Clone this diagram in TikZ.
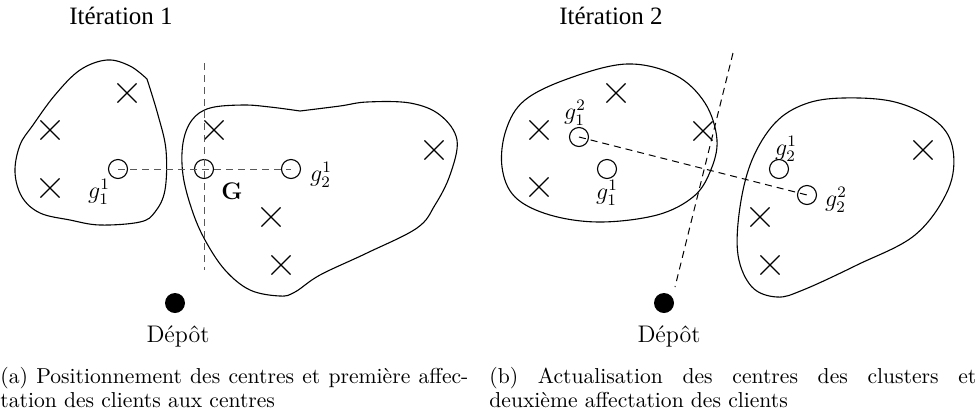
\documentclass[tikz,border=0pt]{standalone}
\usepackage{fontspec}
\newfontfamily\titlefont{Liberation Serif}
\usetikzlibrary{shapes.misc}
\tikzset{
  blob/.style={draw, line width=0.55pt},
  client/.style={cross out, draw, line width=0.55pt, minimum size=9pt, inner sep=0pt},
  centre/.style={circle, draw, line width=0.55pt, minimum size=9.5pt, inner sep=0pt},
  depot/.style={circle, fill=black, minimum size=10pt, inner sep=0pt},
  sep/.style={line width=0.5pt, dash pattern=on 3.5pt off 2.5pt},
  lab/.style={inner sep=0pt, font=\fontsize{12}{14}\selectfont},
  ttl/.style={inner sep=0pt, anchor=base, font=\titlefont\fontsize{12.5}{15}\selectfont},
  capt/.style={inner sep=0pt, anchor=north west, align=justify, font=\fontsize{10.8}{12}\selectfont}
}
\begin{document}
\begin{tikzpicture}[x=0.5pt,y=-0.5pt]
\useasboundingbox (0,0) rectangle (976,414);
% ---------- Panel 1 ----------
\node[ttl] (t1) at (121,24) {Itération 1};
\draw[blob] plot[smooth, tension=0.6] coordinates {(147,79) (158,115) (166,150) (165,190) (155,212) (140,222) (100,225) (70,220) (40,213) (22,197) (15,172) (20,145) (33,125) (55,95) (80,70) (107,60) (130,66) (147,79)};
\draw[blob] plot[smooth, tension=0.6] coordinates {(300,111) (340,106) (367,102) (410,103) (440,115) (457,140) (450,175) (435,205) (417,228) (367,253) (320,275) (295,292) (280,296) (250,290) (225,270) (205,240) (192,210) (183,175) (183,143) (192,120) (210,108) (243,105) (270,107) (300,111)};
\node[client] (a1) at (127,93) {};
\node[client] (a2) at (50,130) {};
\node[client] (a3) at (50,188) {};
\node[client] (a4) at (214,130) {};
\node[client] (a5) at (434,150) {};
\node[client] (a6) at (271,217) {};
\node[client] (a7) at (281,265) {};
\node[centre] (g11) at (118,169) {};
\node[centre] (G) at (204,169) {};
\node[centre] (g21) at (291,169) {};
\coordinate (v1) at (204,63);
\coordinate (v2) at (204,270);
\draw[sep, black!65] (g11.center) -- (g21.center);
\draw[sep, black!65] (v1) -- (v2);
\node[lab] (lg11) at (99,192) {$g_1^1$};
\node[lab] (lG) at (232,191) {\textbf{G}};
\node[lab] (lg21) at (321,175) {$g_2^1$};
\node[depot] (d1) at (175,303) {};
\node[lab, anchor=base] (ld1) at (178,342) {Dépôt};
% ---------- Panel 2 ----------
\node[ttl] (t2) at (611,24) {Itération 2};
\draw[blob] plot[smooth cycle, tension=0.6] coordinates {(627,64) (675,75) (705,103) (717,140) (710,172) (693,197) (657,215) (600,222) (550,215) (515,197) (502,167) (506,130) (525,100) (570,78)};
\draw[blob] plot[smooth cycle, tension=0.6] coordinates {(843,98) (895,102) (937,122) (953,150) (948,190) (915,235) (857,265) (803,290) (777,297) (752,287) (738,255) (740,207) (752,160) (775,123) (805,104)};
\node[client] (b1) at (616,93) {};
\node[client] (b2) at (539,130) {};
\node[client] (b3) at (539,187) {};
\node[client] (b4) at (703,131) {};
\node[client] (b5) at (923,150) {};
\node[client] (b6) at (760,217) {};
\node[client] (b7) at (770,265) {};
\node[centre] (h12) at (579,137) {};
\node[centre] (h11) at (607,169) {};
\node[centre] (h21) at (779,169) {};
\node[centre] (h22) at (807,195) {};
\node[depot] (d2) at (664,303) {};
\coordinate (w1) at (733,53);
\coordinate (w2) at (675,287);
\draw[sep] (h12.center) -- (h22.center);
\draw[sep] (w1) -- (w2);
\node[lab] (lh12) at (575,113) {$g_1^2$};
\node[lab] (lh11) at (607,193) {$g_1^1$};
\node[lab] (lh21) at (786,149) {$g_2^1$};
\node[lab] (lh22) at (836,200) {$g_2^2$};
\node[lab, anchor=base] (ld2) at (669,342) {Dépôt};
% ---------- Captions ----------
\node[capt, text width=234pt] (ca) at (0,367) {(a) Positionnement des centres et première affec-\linebreak tation des clients aux centres};
\node[capt, text width=243.5pt] (cb) at (489,367) {(b) Actualisation des centres des clusters et\linebreak deuxième affectation des clients};
\end{tikzpicture}
\end{document}
